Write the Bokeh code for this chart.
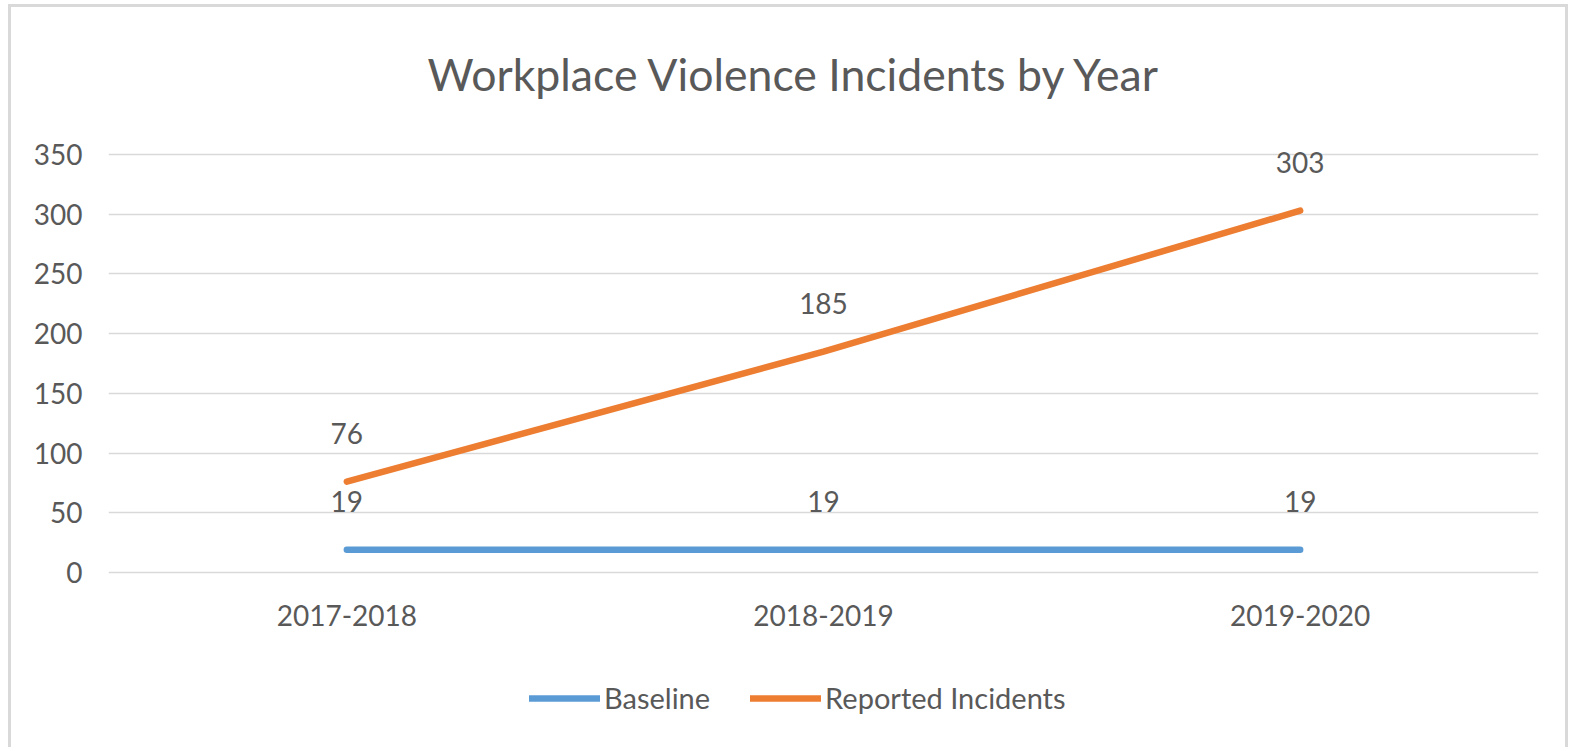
from bokeh.plotting import figure
from bokeh.models import (Range1d, FactorRange, ColumnDataSource, LabelSet, Legend,
                          LegendItem, Title, FixedTicker)
from bokeh.core.properties import value
from bokeh.embed import file_html
from bokeh.resources import INLINE

# ---- data ----
years = ["2017-2018", "2018-2019", "2019-2020"]
baseline = [19, 19, 19]
reported = [76, 185, 303]
y_tick_values = [0, 50, 100, 150, 200, 250, 300, 350]
title_text = "Workplace Violence Incidents by Year"

FONT = "Lato"
TXT = "#595959"
GRID = "#D9D9D9"
BLUE = "#5B9BD5"
ORANGE = "#ED7D31"

# frame runs from just under the title down to the bottom of the chart box,
# so that the legend can sit inside it; the category axis is fixed at y = 0
p = figure(width=1560, height=743, x_range=FactorRange(factors=years),
           y_range=Range1d(-149.04, 393.54), output_backend="svg", toolbar_location=None,
           min_border_left=97, min_border_right=33, min_border_top=95,
           min_border_bottom=0)
p.title.visible = False
p.outline_line_color = None
p.background_fill_color = "white"
p.border_fill_color = "white"
p.styles = {"border-top": "3px solid #D9D9D9", "border-left": "3px solid #D9D9D9",
            "border-right": "3px solid #D9D9D9", "margin-left": "8px",
            "margin-top": "4px"}

t = Title(text=title_text, align="left", vertical_align="top", text_font=FONT,
          text_font_size="44.6px", text_color=TXT, text_font_style="normal",
          standoff=2, offset=319)
p.add_layout(t, "above")

src = ColumnDataSource(dict(year=years, baseline=baseline, reported=reported,
                            blab=[str(v) for v in baseline],
                            rlab=[str(v) for v in reported]))

r1 = p.line("year", "baseline", source=src, line_color=BLUE, line_width=6.5, line_cap="round")
r2 = p.line("year", "reported", source=src, line_color=ORANGE, line_width=6.5, line_cap="round")

for col, lab in (("baseline", "blab"), ("reported", "rlab")):
    ls = LabelSet(x="year", y=col, text=lab, source=src, text_align="center",
                  text_baseline="alphabetic", y_offset=38, text_font=value(FONT),
                  text_font_size=value("28px"), text_color=TXT)
    p.add_layout(ls)

# axes
p.yaxis.ticker = FixedTicker(ticks=y_tick_values)
p.xaxis.fixed_location = 0
for ax in (p.xaxis[0], p.yaxis[0]):
    ax.axis_line_color = None
    ax.major_tick_line_color = None
    ax.minor_tick_line_color = None
    ax.major_tick_out = 0
    ax.major_label_text_font = FONT
    ax.major_label_text_font_size = "28px"
    ax.major_label_text_color = TXT
p.yaxis.major_label_standoff = 26
p.xaxis.major_label_standoff = 32
p.xgrid.grid_line_color = None
p.ygrid.grid_line_color = GRID
p.ygrid.grid_line_width = 1.5

legend = Legend(items=[LegendItem(label="Baseline", renderers=[r1]),
                       LegendItem(label="Reported Incidents", renderers=[r2])],
                location=(421, 35), orientation="horizontal",
                label_text_font=FONT, label_text_font_size="29px", label_text_color=TXT,
                glyph_width=71, glyph_height=20, label_standoff=4, spacing=40,
                padding=0, margin=0, border_line_color=None, background_fill_alpha=0)
p.add_layout(legend, "center")

open("out.html", "w").write(file_html(p, INLINE))
